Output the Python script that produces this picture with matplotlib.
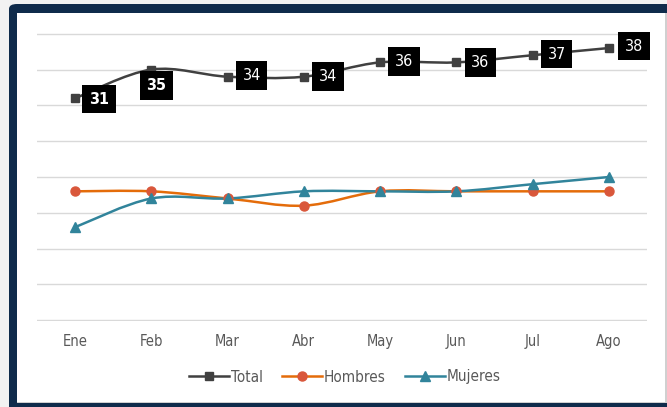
import numpy as np
import matplotlib.pyplot as plt
from matplotlib.patches import Rectangle, FancyBboxPatch, PathPatch
from matplotlib.path import Path
from matplotlib.lines import Line2D

MESES = ["Ene", "Feb", "Mar", "Abr", "May", "Jun", "Jul", "Ago"]
TOTAL = [31, 35, 34, 34, 36, 36, 37, 38]
HOMBRES = [18, 18, 17, 16, 18, 18, 18, 18]
MUJERES = [13, 17, 17, 18, 18, 18, 19, 20]

W, H = 667, 407
FONT = ["Liberation Sans Narrow", "DejaVu Sans"]

C_TOTAL = "#404040"
C_HOMBRES = "#E46C0A"
C_HOMBRES_MK = "#D9573B"
C_MUJERES = "#31849B"


def smooth_path(xs, ys):
    """Cubic Bezier path through the points, like Excel's smoothed line."""
    pts = np.column_stack([xs, ys]).astype(float)
    verts = [pts[0]]
    codes = [Path.MOVETO]
    n = len(pts)
    for i in range(n - 1):
        p0 = pts[i - 1] if i > 0 else pts[i]
        p1 = pts[i]
        p2 = pts[i + 1]
        p3 = pts[i + 2] if i + 2 < n else pts[i + 1]
        c1 = p1 + (p2 - p0) / 6.0
        c2 = p2 - (p3 - p1) / 6.0
        verts += [c1, c2, p2]
        codes += [Path.CURVE4] * 3
    return Path(verts, codes)


def fx(px):
    return px / W


def fy(py):
    return 1 - py / H


fig = plt.figure(figsize=(W / 100, H / 100), dpi=100)
fig.patch.set_facecolor("#f2f2f2")

# navy frame and white panel
fig.patches.append(FancyBboxPatch((fx(9), fy(407 + 10)), fx(680), 413 / H,
                                  boxstyle="round,pad=0,rounding_size=0.012",
                                  transform=fig.transFigure, facecolor="#0f2b4b",
                                  edgecolor="none", zorder=-3))
fig.patches.append(Rectangle((fx(17), fy(403)), fx(650), 390 / H,
                             transform=fig.transFigure, facecolor="#d0d0d0",
                             edgecolor="none", zorder=-2))
fig.patches.append(Rectangle((fx(17), fy(402)), fx(648), 389 / H,
                             transform=fig.transFigure, facecolor="white",
                             edgecolor="none", zorder=-1))

ax = fig.add_axes([fx(37), fy(321), fx(610), (321 - 33) / H])
ax.set_facecolor("none")
x = np.arange(len(MESES))

for vals, col, mcol, mk, ms in [
    (TOTAL, C_TOTAL, C_TOTAL, "s", 5.5),
    (HOMBRES, C_HOMBRES, C_HOMBRES_MK, "o", 6.5),
    (MUJERES, C_MUJERES, C_MUJERES, "^", 6.5),
]:
    ax.add_patch(PathPatch(smooth_path(x, vals), facecolor="none",
                           edgecolor=col, lw=1.8, zorder=3))
    ax.plot(x, vals, ls="none", marker=mk, ms=ms, color=mcol, zorder=4)

# data labels on Total
offsets = [(24, -1), (5, -16), (24, 1), (24, 0), (24, 1), (24, 0), (24, 1), (25, 2)]
for i, v in enumerate(TOTAL):
    dx, dy = offsets[i]
    ax.annotate(str(v), (x[i], v), xytext=(dx * 0.72, dy * 0.72),
                textcoords="offset points", ha="center", va="center",
                color="white", fontsize=11.5, family=FONT, fontstretch="condensed",
                fontweight="bold" if i < 2 else "normal",
                bbox=dict(boxstyle="square,pad=0.42", fc="black", ec="none"),
                zorder=5)

ax.set_xlim(-0.5, 7.5)
ax.set_ylim(-0.1, 40.1)
ax.set_yticks(np.arange(0, 41, 5))
ax.yaxis.grid(True, color="#d9d9d9", lw=1)
ax.set_axisbelow(True)
ax.tick_params(axis="y", left=False, labelleft=False)
ax.tick_params(axis="x", bottom=False, pad=6, labelsize=10.5, labelcolor="#595959")
ax.set_xticks(x)
ax.set_xticklabels(MESES, family=FONT, fontstretch="condensed")
for s in ax.spines.values():
    s.set_visible(False)

handles = [
    Line2D([], [], color=C_TOTAL, lw=1.8, marker="s", ms=5.5),
    Line2D([], [], color=C_HOMBRES, lw=1.8, marker="o", ms=6.5, mfc=C_HOMBRES_MK, mec=C_HOMBRES_MK),
    Line2D([], [], color=C_MUJERES, lw=1.8, marker="^", ms=6.5),
]
fig.legend(handles, ["Total", "Hombres", "Mujeres"], loc="center",
           bbox_to_anchor=(fx(345), fy(377)), ncol=3, frameon=False,
           handlelength=2.6, handletextpad=0.1, columnspacing=1.3,
           prop={"family": FONT, "size": 11, "stretch": "condensed"},
           labelcolor="#595959")

fig.savefig("out.png", dpi=100, facecolor=fig.get_facecolor())
